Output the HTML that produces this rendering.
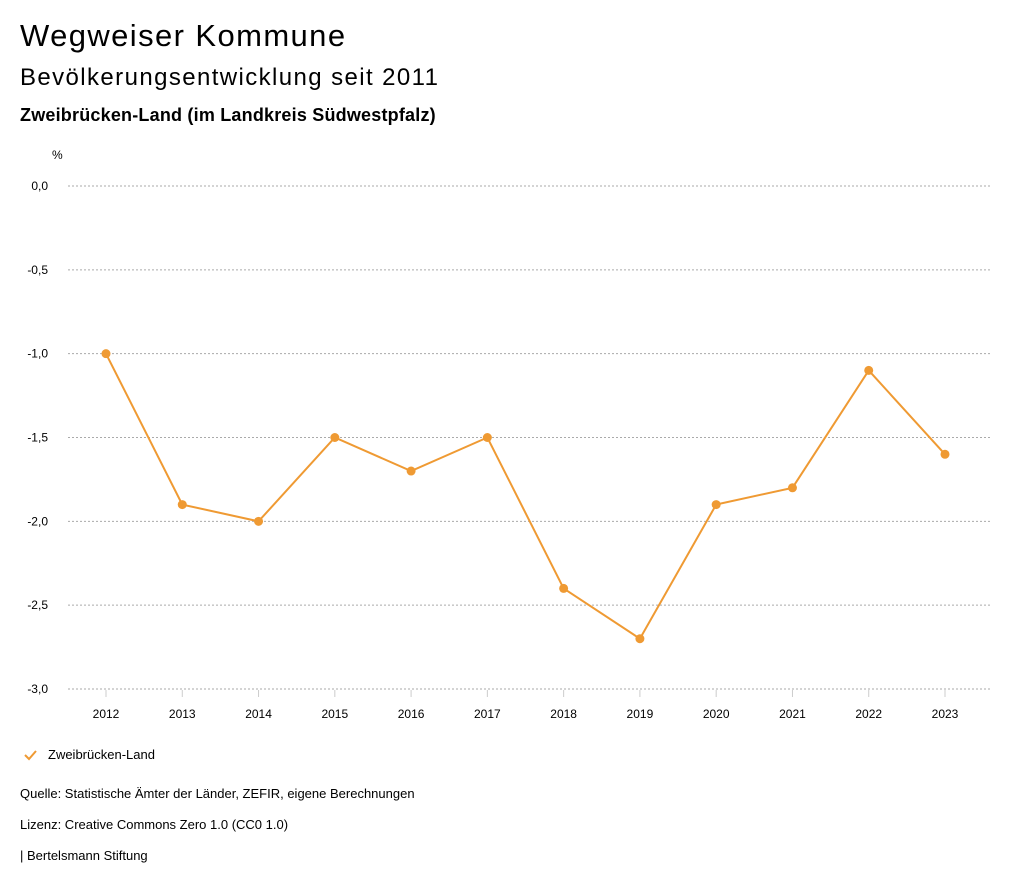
<!DOCTYPE html>
<html><head><meta charset="utf-8"><style>
body{margin:0;width:1024px;height:888px;background:#fff;font-family:"Liberation Sans",sans-serif;color:#000;overflow:hidden}
.t{position:absolute;left:20px;white-space:nowrap}
</style></head><body>
<div class="t" style="top:18px;font-size:31px;letter-spacing:1.4px">Wegweiser Kommune</div>
<div class="t" style="top:64px;font-size:24px;letter-spacing:1.4px">Bevölkerungsentwicklung seit 2011</div>
<div class="t" style="top:105px;font-size:18px;font-weight:bold;letter-spacing:0.2px">Zweibrücken-Land (im Landkreis Südwestpfalz)</div>
<svg id="c" width="1024" height="888" style="position:absolute;left:0;top:0" font-family="Liberation Sans, sans-serif"></svg>
<div class="t" style="top:786px;font-size:13px">Quelle: Statistische Ämter der Länder, ZEFIR, eigene Berechnungen</div>
<div class="t" style="top:817px;font-size:13px">Lizenz: Creative Commons Zero 1.0 (CC0 1.0)</div>
<div class="t" style="top:848px;font-size:13px">| Bertelsmann Stiftung</div>
<script>
const years=["2012","2013","2014","2015","2016","2017","2018","2019","2020","2021","2022","2023"];
const values=[-1.0,-1.9,-2.0,-1.5,-1.7,-1.5,-2.4,-2.7,-1.9,-1.8,-1.1,-1.6];
const yTicks=[0,-0.5,-1.0,-1.5,-2.0,-2.5,-3.0];
const yLabels=["0,0","-0,5","-1,0","-1,5","-2,0","-2,5","-3,0"];
const C="#ef9a33",NS="http://www.w3.org/2000/svg",svg=document.getElementById('c');
const y=v=>186+(0-v)/3*503;
const x=i=>106+i*(945-106)/11;
function mk(t,a){const e=document.createElementNS(NS,t);for(const k in a)e.setAttribute(k,a[k]);svg.appendChild(e);return e;}
let u=mk('text',{x:52,y:159,'font-size':12});u.textContent='%';


yTicks.forEach((v,i)=>{
 const g=mk('line',{x1:68,x2:990,y1:y(v),y2:y(v),stroke:'#aaa','stroke-dasharray':'2,2','stroke-width':1});
 
 
 const t=mk('text',{x:48,y:y(v)+4,'font-size':12,'text-anchor':'end'});t.textContent=yLabels[i];
 
 
});
years.forEach((yr,i)=>{
 const k=mk('line',{x1:x(i),x2:x(i),y1:690,y2:697,stroke:'#ccc'});
 
 
 const t=mk('text',{x:x(i),y:718,'font-size':12,'text-anchor':'middle'});t.textContent=yr;
 
 
});
const p=mk('polyline',{points:values.map((v,i)=>x(i)+','+y(v)).join(' '),fill:'none',stroke:C,'stroke-width':2});


values.forEach((v,i)=>{const d=mk('circle',{cx:x(i),cy:y(v),r:4.5,fill:C});
 
 });
const lg=mk('polyline',{points:'25,755 29,759 36,751',fill:'none',stroke:C,'stroke-width':2});


const lt=mk('text',{x:48,y:759,'font-size':13});lt.textContent='Zweibrücken-Land';


</script>
</body></html>
